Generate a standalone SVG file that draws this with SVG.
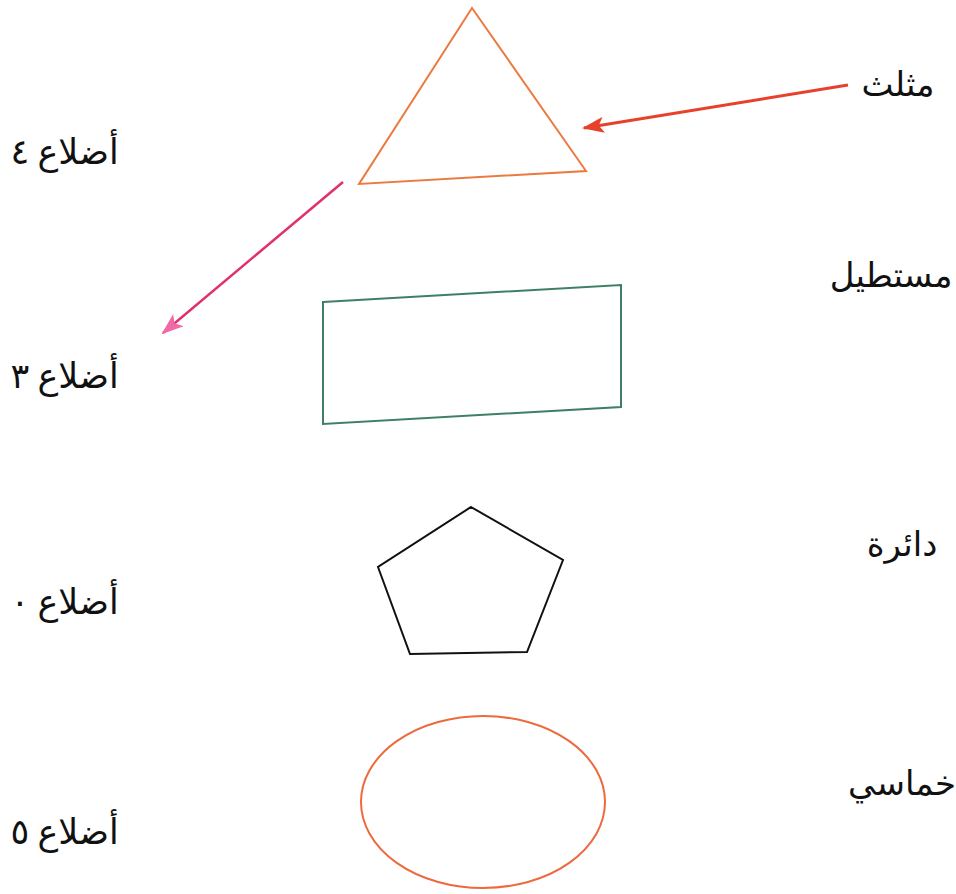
<svg xmlns="http://www.w3.org/2000/svg" width="956" height="894" viewBox="0 0 956 894">
<style>
.lbl{font-family:"DejaVu Sans",sans-serif;font-size:35px;fill:#111}
.name{font-family:"DejaVu Serif","DejaVu Sans",serif;font-size:34px;fill:#111}
.shape{fill:none;stroke-width:2}
</style>
<defs>
<marker id="hRed" markerWidth="22" markerHeight="16" refX="20" refY="8" orient="auto" markerUnits="userSpaceOnUse" viewBox="0 0 22 16">
<path d="M0,0 L22,8 L0,16 L5,8 Z" fill="#e8402a"/>
</marker>
<marker id="hPink" markerWidth="22" markerHeight="16" refX="20" refY="8" orient="auto" markerUnits="userSpaceOnUse" viewBox="0 0 22 16">
<path d="M0,0 L22,8 L0,16 L5,8 Z" fill="#f06aa8"/>
</marker>
</defs>
<rect width="956" height="894" fill="#fff"/>

<g id="triangle"><polygon class="shape" points="472,8 586,171 359,184" stroke="#ec7a40"/></g>
<g id="rectangle"><polygon class="shape" points="323,302 621,285 621,407 323,424" stroke="#3f7f63"/></g>
<g id="pentagon"><polygon class="shape" points="471,507 563,560 527,652 410,654 378,567" stroke="#111"/></g>
<g id="ellipse"><ellipse class="shape" cx="483" cy="802" rx="122" ry="86" stroke="#ec6a3e"/></g>

<g id="label-triangle"><text class="name" x="898" y="96" text-anchor="middle">مثلث</text></g>
<g id="label-rectangle"><text class="name" x="891" y="287" text-anchor="middle">مستطيل</text></g>
<g id="label-circle"><text class="name" x="902" y="556" text-anchor="middle">دائرة</text></g>
<g id="label-pentagon"><text class="name" x="902" y="795" text-anchor="middle">خماسي</text></g>

<g id="sides-4"><text class="lbl" x="20" y="164" text-anchor="middle">٤</text><text class="lbl" x="78" y="164" text-anchor="middle">أضلاع</text></g>
<g id="sides-3"><text class="lbl" x="20" y="388" text-anchor="middle">٣</text><text class="lbl" x="78" y="388" text-anchor="middle">أضلاع</text></g>
<g id="sides-0"><text class="lbl" x="20" y="614" text-anchor="middle">٠</text><text class="lbl" x="78" y="614" text-anchor="middle">أضلاع</text></g>
<g id="sides-5"><text class="lbl" x="20" y="844" text-anchor="middle">٥</text><text class="lbl" x="78" y="844" text-anchor="middle">أضلاع</text></g>

<g id="connectors">
<line x1="848" y1="85" x2="584" y2="128" stroke="#e8402a" stroke-width="3" marker-end="url(#hRed)"/>
<line x1="343" y1="182" x2="163" y2="333" stroke="#e03070" stroke-width="2.5" marker-end="url(#hPink)"/>
</g>
</svg>
